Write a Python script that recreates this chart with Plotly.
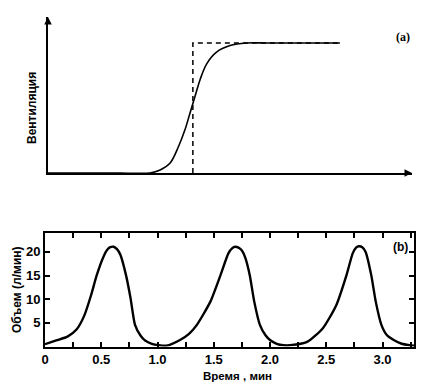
import plotly.graph_objects as go

# ---- Panel (a): ventilation step response (arbitrary units) ----
vent_x = [0, 10, 20, 28, 30.8, 33.5, 35.8, 37.6, 39.0, 40.4, 41.8, 43.6, 46.3, 50.0, 54.6, 60, 70, 80.2]
vent_y = [0, 0, 0, 0, 0.023, 0.075, 0.20, 0.33, 0.46, 0.59, 0.72, 0.84, 0.93, 0.98, 1.0, 1.0, 1.0, 1.0]
step_x = [39.8, 39.8, 80.2]
step_y = [0, 1.0, 1.0]

# ---- Panel (b): volume (l/min) vs time (min) ----
time_min = [0.0, 0.1, 0.2, 0.28, 0.35, 0.41, 0.46, 0.52, 0.555, 0.58, 0.61, 0.64, 0.67, 0.72, 0.76, 0.80, 0.85, 0.89, 0.95, 1.01, 1.08,
            1.2, 1.28, 1.35, 1.47, 1.56, 1.63, 1.665, 1.69, 1.72, 1.75, 1.78, 1.82, 1.86, 1.91, 1.96, 2.0, 2.06, 2.12,
            2.18, 2.33, 2.47, 2.59, 2.68, 2.735, 2.765, 2.79, 2.82, 2.85, 2.90, 2.94, 2.99, 3.04, 3.10, 3.17, 3.24, 3.28]
volume = [0.5, 1.3, 2.1, 3.6, 6.6, 10.9, 15.1, 19.0, 20.5, 21.0, 21.1, 20.6, 19.4, 15.1, 10.3, 4.6, 2.3, 1.3, 0.6, 0.3, 0.2,
          1.4, 2.7, 4.6, 9.5, 15.1, 19.7, 20.8, 21.1, 20.9, 20.3, 18.8, 15.1, 9.5, 4.6, 2.4, 1.4, 0.6, 0.3,
          0.3, 1.0, 3.9, 8.8, 15.1, 19.7, 20.9, 21.2, 21.0, 20.0, 15.1, 9.5, 4.6, 2.4, 1.4, 0.6, 0.3, 0.2]

x_ticks = [0, 0.5, 1.0, 1.5, 2.0, 2.5, 3.0]
x_ticklabels = ["0", "0.5", "1.0", "1.5", "2.0", "2.5", "3.0"]
y_ticks = [5, 10, 15, 20]

# page has an 8px body margin: figure pixel = reference pixel - 8
OFF = 8
W, H = 430 - OFF, 387 - OFF
def px(x): return (x - OFF) / W
def py(y): return 1 - (y - OFF) / H

FONT = "Liberation Sans"

fig = go.Figure()

fig.add_trace(go.Scatter(x=step_x, y=step_y, mode="lines", xaxis="x2", yaxis="y2",
                         line=dict(color="black", width=1.5, dash="5px,4px"), hoverinfo="skip"))
fig.add_trace(go.Scatter(x=vent_x, y=vent_y, mode="lines", xaxis="x2", yaxis="y2",
                         line=dict(color="black", width=1.6, shape="spline"), hoverinfo="skip"))
fig.add_trace(go.Scatter(x=time_min, y=volume, mode="lines", xaxis="x", yaxis="y",
                         line=dict(color="black", width=2.4, shape="spline", smoothing=0.6),
                         hoverinfo="skip"))

axis_common = dict(showgrid=False, zeroline=False, linecolor="black", automargin=False)

fig.update_layout(
    width=W, height=H,
    margin=dict(l=0, r=0, t=0, b=0),
    paper_bgcolor="white", plot_bgcolor="white",
    showlegend=False,
    xaxis=dict(domain=[px(45), px(414)], range=[0, 3.28], anchor="y",
               showline=True, linewidth=1.8, mirror="ticks",
               tickmode="array", tickvals=x_ticks, ticktext=x_ticklabels,
               ticks="inside", ticklen=5, tickwidth=1.5, tickcolor="black",
               minor=dict(dtick=0.25, tick0=0, ticks="inside", ticklen=5, tickwidth=1.5, tickcolor="black"),
               tickfont=dict(family=FONT, size=13, color="black", weight="bold"),
               **axis_common),
    yaxis=dict(domain=[py(346.6), py(233)], range=[0, 24], anchor="x",
               showline=True, linewidth=1.8, mirror="ticks",
               tickmode="array", tickvals=y_ticks,
               ticks="inside", ticklen=5, tickwidth=1.5, tickcolor="black",
               tickfont=dict(family=FONT, size=13, color="black", weight="bold"),
               **axis_common),
    xaxis2=dict(domain=[px(48), px(412)], range=[0, 100], anchor="y2",
                showline=True, linewidth=1.5, showticklabels=False, ticks="",
                **axis_common),
    yaxis2=dict(domain=[py(173), py(17)], range=[0, 1.2], anchor="x2",
                showline=True, linewidth=1.5, showticklabels=False, ticks="",
                **axis_common),
)

def label(x, y, text, size=12, angle=0, family=FONT):
    return dict(x=px(x), y=py(y), xref="paper", yref="paper", text=text, textangle=angle,
                xanchor="center", yanchor="middle", showarrow=False,
                font=dict(family=family, size=size, color="black", weight="bold"))

annotations = [
    # arrowheads of panel (a) axes
    dict(x=100, y=0, xref="x2", yref="y2", ax=-8, ay=0, text="", showarrow=True,
         arrowhead=2, arrowsize=1, arrowwidth=1.5, arrowcolor="black"),
    dict(x=0, y=1.2, xref="x2", yref="y2", ax=0, ay=8, text="", showarrow=True,
         arrowhead=2, arrowsize=1, arrowwidth=1.5, arrowcolor="black"),
    label(32, 108, "Вентиляция", angle=-90),
    label(403, 37, "(a)", family="Liberation Serif"),
    label(400, 247, "(b)"),
    label(17, 290, "Объем (л/мин)", angle=-90),
    label(238, 376, "Время , мин", size=11.5),
]
fig.update_layout(annotations=annotations)

fig.write_html("out.html")
